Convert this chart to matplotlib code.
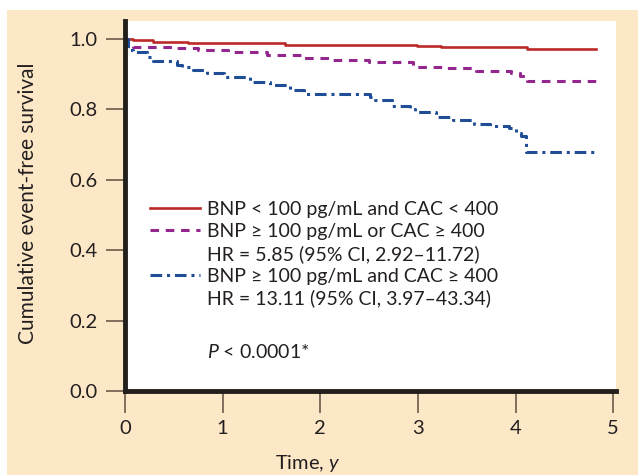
import matplotlib.pyplot as plt
from matplotlib.lines import Line2D
from matplotlib.patches import Rectangle

# datos (Kaplan-Meier)
t_bajo = [0, 0.085, 0.29, 0.65, 1.64, 2.99, 3.24, 4.12, 4.82]
s_bajo = [1.0, 0.997, 0.992, 0.988, 0.984, 0.980, 0.978, 0.972, 0.972]

t_uno = [0, 0.02, 0.08, 0.5, 0.75, 1.05, 1.45, 1.8, 2.1, 2.5, 2.95, 3.3,
         3.6, 3.95, 4.05, 4.12, 4.82]
s_uno = [1.0, 0.985, 0.978, 0.975, 0.969, 0.962, 0.955, 0.945, 0.940, 0.934,
         0.921, 0.917, 0.910, 0.903, 0.896, 0.881, 0.881]

t_ambos = [0, 0.03, 0.08, 0.22, 0.29, 0.53, 0.58, 0.70, 0.84, 1.01, 1.28,
           1.49, 1.69, 1.83, 2.51, 2.56, 2.73, 2.92, 2.97, 3.19, 3.36, 3.57,
           3.74, 3.93, 4.0, 4.06, 4.11, 4.82]
s_ambos = [1.0, 0.969, 0.962, 0.950, 0.938, 0.926, 0.920, 0.912, 0.905,
           0.891, 0.879, 0.869, 0.855, 0.844, 0.834, 0.827, 0.810, 0.800,
           0.793, 0.778, 0.770, 0.759, 0.753, 0.746, 0.732, 0.724, 0.680,
           0.680]

etiquetas = ['BNP < 100 pg/mL and CAC < 400',
             'BNP \u2265 100 pg/mL or CAC \u2265 400',
             'HR = 5.85 (95% CI, 2.92\u201311.72)',
             'BNP \u2265 100 pg/mL and CAC \u2265 400',
             'HR = 13.11 (95% CI, 3.97\u201343.34)']

plt.rcParams['font.family'] = ['Lato', 'DejaVu Sans']
plt.rcParams['mathtext.fontset'] = 'custom'
plt.rcParams['mathtext.it'] = 'Lato:italic'
plt.rcParams['mathtext.rm'] = 'Lato'

rojo = '#bb2a28'
morado = '#93278f'
azul = '#1f4e96'
fondo = '#fce8c6'
texto = '#231f20'

fig = plt.figure(figsize=(6.38, 4.75), dpi=100, facecolor='white')
fig.patches.append(Rectangle((7 / 638, 0), 1, 465 / 475, transform=fig.transFigure,
                             facecolor=fondo, edgecolor='none', zorder=-1))
ax = fig.add_axes([0.196, 0.1768, 0.7696, 0.778])
ax.set_facecolor('white')

ax.step(t_bajo, s_bajo, where='post', color=rojo, lw=1.9)
ax.step(t_uno, s_uno, where='post', color=morado, lw=2.2, dashes=(2.8, 2.2))
ax.step(t_ambos, s_ambos, where='post', color=azul, lw=2.2,
        dashes=(3.8, 1.6, 1.0, 1.6))

ax.set_xlim(0, 5.03)
ax.set_ylim(0, 1.05)
ax.set_xticks(range(6))
ax.set_yticks([0, 0.2, 0.4, 0.6, 0.8, 1.0])
ax.set_yticklabels(['0.0', '0.2', '0.4', '0.6', '0.8', '1.0'])

for lado in ['top', 'right']:
    ax.spines[lado].set_visible(False)
for lado in ['left', 'bottom']:
    ax.spines[lado].set_linewidth(3.5)
    ax.spines[lado].set_color('#231f1c')

ax.tick_params(axis='y', length=14, width=1.2, color='#6b5a4a', pad=6,
               labelsize=14.5, labelcolor=texto)
ax.tick_params(axis='x', length=16, width=1.2, color='#6b5a4a', pad=5,
               labelsize=14.5, labelcolor=texto)

ax.set_ylabel('Cumulative event-free survival', fontsize=15, color=texto)
ax.yaxis.set_label_coords(-0.177, 0.509)
ax.set_xlabel('Time, $y$', fontsize=14.5, color=texto)
ax.xaxis.set_label_coords(0.373, -0.168)

manejadores = [
    Line2D([], [], color=rojo, lw=1.9),
    Line2D([], [], color=morado, lw=2.2, dashes=(2.8, 2.2)),
    Line2D([], [], color='none'),
    Line2D([], [], color=azul, lw=2.2, dashes=(3.8, 1.6, 1.0, 1.6)),
    Line2D([], [], color='none'),
]
ax.legend(manejadores, etiquetas, loc='upper left', bbox_to_anchor=(0.051, 0.514),
          frameon=False, fontsize=14, handlelength=2.57, handletextpad=0.36,
          labelspacing=0.25, borderpad=0, borderaxespad=0,
          labelcolor=texto)

ax.text(0.167, 0.106, '$P$ < 0.0001*', transform=ax.transAxes, fontsize=14,
        va='center', ha='left', color=texto)

plt.savefig('out.png', dpi=100, facecolor=fig.get_facecolor())
